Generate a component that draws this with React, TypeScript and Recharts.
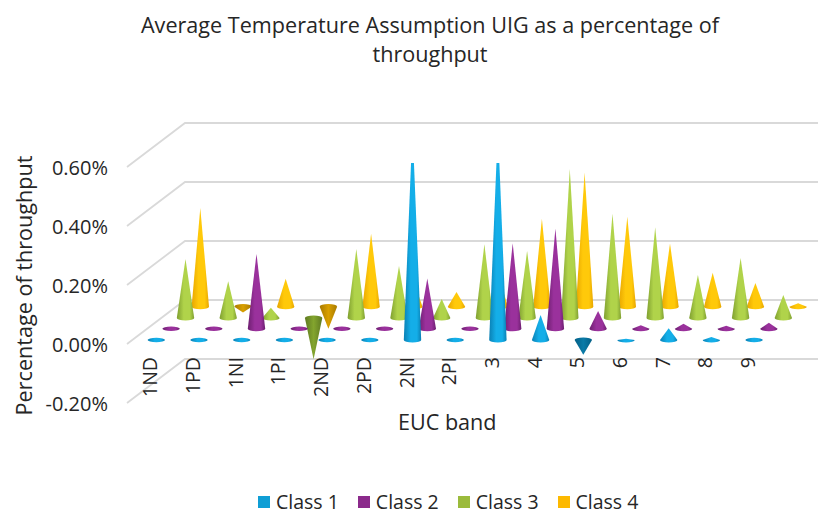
import { Bar, BarChart, CartesianGrid, Legend, XAxis, YAxis } from 'recharts'

const bands = ['1ND', '1PD', '1NI', '1PI', '2ND', '2PD', '2NI', '2PI', '3', '4', '5', '6', '7', '8', '9']
const class1 = [0, 0, 0, 0, 0, 0, 0.72, 0, 0.72, 0.085, -0.05, 0.004, 0.04, 0.01, 0]
const class2 = [0, 0, 0.254, 0, 0, 0, 0.17, 0, 0.29, 0.34, 0.06, 0.012, 0.017, 0.01, 0.02]
const class3 = [0.2, 0.125, 0.035, -0.14, 0.234, 0.176, 0.064, 0.25, 0.227, 0.505, 0.353, 0.308, 0.146, 0.203, 0.078]
const class4 = [0.335, -0.02, 0.095, -0.075, 0.247, 0.085, 0.05, 0.1, 0.298, 0.454, 0.305, 0.214, 0.115, 0.08, 0.012]
const yTicks = [-0.2, 0, 0.2, 0.4, 0.6]

const classNames = ['Class 1', 'Class 2', 'Class 3', 'Class 4']
const classColors = ['#0f9ed5', '#8b2a8b', '#9bbb3c', '#fdb900']

// edge / highlight colours of each cone, the darker pair is for negative values
const shades = [
  { id: 'c1', edge: '#0a80b4', light: '#14aee8', darkEdge: '#045f86', darkLight: '#0a7ba8' },
  { id: 'c2', edge: '#6d1f70', light: '#9a319c', darkEdge: '#541858', darkLight: '#752478' },
  { id: 'c3', edge: '#7f9f30', light: '#b0d34a', darkEdge: '#5f7a22', darkLight: '#83a52e' },
  { id: 'c4', edge: '#e8a600', light: '#ffc90a', darkEdge: '#a87a00', darkLight: '#d9a000' },
]

// how far back each series sits on the floor of the 3D box
const depthX = [7.6, 22.4, 36.8, 51.6]
const depthY = [4, 15.3, 26, 37.3]
const wallX = 58
const wallY = 44
const chartWidth = 818
const axisMax = 0.6

const data = bands.map((band, i) => ({
  band,
  c1: class1[i],
  c2: class2[i],
  c3: class3[i],
  c4: class4[i],
}))

const font = '"Open Sans", sans-serif'

function makeCone(series: number) {
  const key = shades[series].id
  return function Cone(props: any) {
    const v = props.payload[key]
    const y1 = Math.min(props.y, props.y + props.height)
    const y2 = Math.max(props.y, props.y + props.height)
    const zero = (v >= 0 ? y2 : y1) - depthY[series]
    const tip = (v >= 0 ? y1 : y2) - depthY[series]
    const cx = props.x + props.width / 2 + depthX[series]
    const rx = props.width / 2
    const ry = 2.6
    if (v === 0) {
      return <ellipse cx={cx} cy={zero} rx={rx} ry={ry - 0.4} fill={`url(#${key})`} />
    }
    if (v < 0) {
      const d = `M${cx - rx},${zero} L${cx},${tip} L${cx + rx},${zero} A${rx},${ry} 0 0 0 ${cx - rx},${zero} Z`
      return <path d={d} fill={`url(#${key}d)`} />
    }
    let d = `M${cx - rx},${zero} L${cx},${tip} L${cx + rx},${zero} A${rx},${ry} 0 0 1 ${cx - rx},${zero} Z`
    if (v > axisMax) {
      // taller than the axis: the cone is cut off at the top of the box
      const cut = zero - ((zero - tip) * axisMax) / v
      const top = rx * (1 - axisMax / v)
      d = `M${cx - rx},${zero} L${cx - top},${cut} L${cx + top},${cut} L${cx + rx},${zero} A${rx},${ry} 0 0 1 ${cx - rx},${zero} Z`
    }
    return <path d={d} fill={`url(#${key})`} />
  }
}

function WallLine(props: any) {
  const { x1, y1 } = props
  // the plot runs above the last tick to leave room for the cut cones, no line there
  if (y1 <= props.y + 1) return <g key={props.key ?? y1} />
  return (
    <polyline
      key={props.key ?? y1}
      points={`${x1},${y1} ${x1 + wallX},${y1 - wallY} ${chartWidth},${y1 - wallY}`}
      fill="none"
      stroke="#d9d9d9"
      strokeWidth={1.8}
    />
  )
}

function BandTick(props: any) {
  const { x, y, payload } = props
  return (
    <text
      transform={`translate(${x + 9},${y - 54}) rotate(-90)`}
      textAnchor="end"
      fontFamily={font}
      fontSize={19.5}
      fill="#262626"
    >
      {payload.value}
    </text>
  )
}

function ClassLegend() {
  return (
    <div style={{ display: 'flex', fontFamily: font, fontSize: 19.5, lineHeight: '18px', color: '#262626', height: 18, alignItems: 'center' }}>
      {classNames.map((name, i) => (
        <span key={name} style={{ display: 'flex', alignItems: 'center', marginRight: 19 }}>
          <span style={{ width: 12, height: 12, background: classColors[i], marginRight: 6 }} />
          {name}
        </span>
      ))}
    </div>
  )
}

export default function App() {
  return (
    <div style={{ position: 'absolute', left: 0, top: 0, width: 818, height: 510, background: '#fff' }}>
      <div
        style={{
          position: 'absolute',
          left: 0,
          top: 10,
          width: 860,
          textAlign: 'center',
          fontFamily: font,
          fontSize: 21.6,
          lineHeight: '29px',
          color: '#262626',
        }}
      >
        Average Temperature Assumption UIG as a percentage of
        <br />
        throughput
      </div>
      <BarChart
        width={818}
        height={510}
        data={data}
        barSize={17.4}
        barGap={-17.4}
        margin={{ top: 108, right: 50.5, bottom: 0, left: 0 }}
        style={{ position: 'absolute', left: 0, top: 0 }}
      >
        <defs>
          {shades.map((s) => (
            <linearGradient key={s.id} id={s.id} x1="0" y1="0" x2="1" y2="0">
              <stop offset="0" stopColor={s.edge} />
              <stop offset="0.4" stopColor={s.light} />
              <stop offset="0.75" stopColor={s.light} />
              <stop offset="1" stopColor={s.edge} />
            </linearGradient>
          ))}
          {shades.map((s) => (
            <linearGradient key={s.id + 'd'} id={s.id + 'd'} x1="0" y1="0" x2="1" y2="0">
              <stop offset="0" stopColor={s.darkEdge} />
              <stop offset="0.5" stopColor={s.darkLight} />
              <stop offset="1" stopColor={s.darkEdge} />
            </linearGradient>
          ))}
        </defs>
        <CartesianGrid horizontal={WallLine} vertical={false} />
        <XAxis
          dataKey="band"
          axisLine={false}
          tickLine={false}
          height={107}
          interval={0}
          tick={BandTick}
          label={{
            value: 'EUC band',
            position: 'insideTop',
            offset: 12,
            style: { fontFamily: font, fontSize: 21.6, fill: '#262626' },
          }}
        />
        <YAxis
          width={127}
          domain={[-0.2, 0.8]}
          ticks={yTicks}
          axisLine={false}
          tickLine={false}
          tickMargin={13}
          tickFormatter={(v: number) => `${v.toFixed(2)}%`}
          tick={{ fontFamily: font, fontSize: 20, fill: '#262626', dy: 1 }}
          label={{
            value: 'Percentage of throughput',
            angle: -90,
            position: 'insideLeft',
            offset: 24,
            dy: 30,
            style: { fontFamily: font, fontSize: 21.6, fill: '#262626', textAnchor: 'middle' },
          }}
        />
        <Legend
          content={ClassLegend}
          layout="horizontal"
          verticalAlign="middle"
          wrapperStyle={{ top: 493, left: 258, width: 420 }}
        />
        <Bar dataKey="c4" name="Class 4" fill={classColors[3]} shape={makeCone(3)} isAnimationActive={false} />
        <Bar dataKey="c3" name="Class 3" fill={classColors[2]} shape={makeCone(2)} isAnimationActive={false} />
        <Bar dataKey="c2" name="Class 2" fill={classColors[1]} shape={makeCone(1)} isAnimationActive={false} />
        <Bar dataKey="c1" name="Class 1" fill={classColors[0]} shape={makeCone(0)} isAnimationActive={false} />
      </BarChart>
    </div>
  )
}
